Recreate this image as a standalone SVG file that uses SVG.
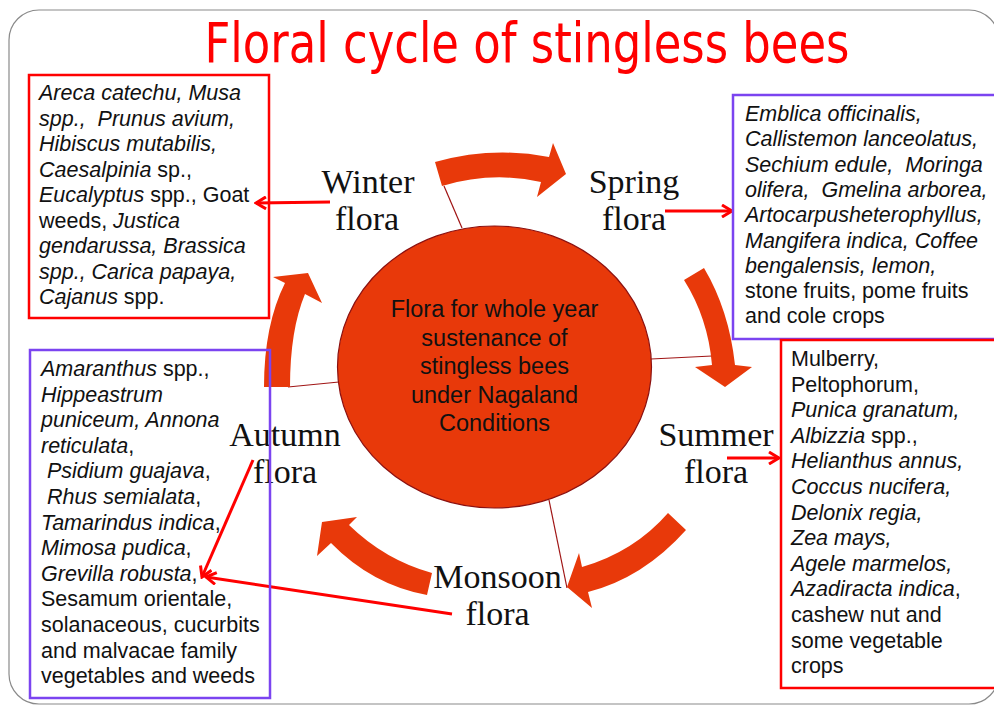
<svg xmlns="http://www.w3.org/2000/svg" width="994" height="706" viewBox="0 0 994 706">
<defs>
<style>
.frame{fill:#fff;stroke:#8a8a8a;stroke-width:1.2}
.title{font-family:"Liberation Sans Narrow","DejaVu Sans Condensed","Liberation Sans",sans-serif;font-size:56px;fill:#ff0000}
.bx{font-family:"Liberation Sans",Arial,sans-serif;font-size:21.5px;fill:#111;white-space:pre}
.i{font-style:italic}
.lbl{font-family:"Liberation Serif","Times New Roman",serif;font-size:34px;fill:#111;text-anchor:middle}
.ctr{font-family:"Liberation Sans",Arial,sans-serif;font-size:23.5px;fill:#111;text-anchor:middle}
.redbox{fill:none;stroke:#ff0000;stroke-width:2.5}
.purbox{fill:none;stroke:#7b44f0;stroke-width:2.5}
.blk{fill:#e8390a;stroke:none}
.spoke{stroke:#a01515;stroke-width:1.2;fill:none}
.ptr{stroke:#ff0000;stroke-width:3;fill:none;marker-end:url(#ah)}
</style>
<marker id="ah" viewBox="0 0 14 14" refX="12" refY="7" markerWidth="14" markerHeight="14" markerUnits="userSpaceOnUse" orient="auto">
<path d="M2,1 L12,7 L2,13" fill="none" stroke="#ff0000" stroke-width="3"/>
</marker>
</defs>
<rect width="994" height="706" fill="#ffffff"/>
<rect class="frame" x="9" y="10" width="990" height="694" rx="30" ry="30"/>

<g id="title"><text class="title" x="527" y="62" text-anchor="middle" textLength="645" lengthAdjust="spacingAndGlyphs">Floral cycle of stingless bees</text></g>

<g id="connectors">
<line class="spoke" x1="444" y1="186" x2="462" y2="228"/>
<line class="spoke" x1="651" y1="359" x2="712" y2="356"/>
<line class="spoke" x1="288" y1="387" x2="339" y2="382"/>
<line class="spoke" x1="549" y1="500" x2="567" y2="588"/>
<path class="blk" d="M435,162 Q492,146 549,157 L553,143 L566,174 L537,197 L541,182 Q492,171 442,186 Z"/>
<path class="blk" d="M684,280 L704,268 Q729,310 735,365 L752,367 L725,387 L695,367 L712,365 Q708,318 684,280 Z"/>
<path class="blk" d="M668,513 L686,530 Q643,578 588,592 L592,608 L567,587 L579,553 L582,567 Q634,552 668,513 Z"/>
<path class="blk" d="M432,573 L427,595 Q372,585 331,543 L317,556 L322,522 L357,517 L349,525 Q385,560 432,573 Z"/>
<path class="blk" d="M264,387 Q264,325 285,283 L273,277 L308,273 L322,303 L305,294 Q290,330 290,387 Z"/>
<line class="ptr" x1="330" y1="202" x2="256" y2="203"/>
<line class="ptr" x1="665" y1="211" x2="732" y2="211"/>
<line class="ptr" x1="727" y1="458" x2="779" y2="458"/>
<line class="ptr" x1="253" y1="460" x2="202" y2="577"/>
<line class="ptr" x1="452" y1="614" x2="206" y2="577"/>
</g>

<g id="center">
<ellipse cx="494.5" cy="367" rx="157" ry="141" fill="#e8390a" stroke="#8b1010" stroke-width="1.2"/>
<text class="ctr" x="494.5" y="317">Flora for whole year</text>
<text class="ctr" x="494.5" y="345.5">sustenance of</text>
<text class="ctr" x="494.5" y="374">stingless bees</text>
<text class="ctr" x="494.5" y="402.5">under Nagaland</text>
<text class="ctr" x="494.5" y="431">Conditions</text>
</g>

<g id="winter-label"><text class="lbl" x="368" y="193">Winter</text><text class="lbl" x="367" y="230">flora</text></g>
<g id="spring-label"><text class="lbl" x="634" y="193">Spring</text><text class="lbl" x="634" y="230">flora</text></g>
<g id="summer-label"><text class="lbl" x="716" y="446">Summer</text><text class="lbl" x="716" y="483">flora</text></g>
<g id="autumn-label"><text class="lbl" x="285" y="446">Autumn</text><text class="lbl" x="285" y="483">flora</text></g>
<g id="monsoon-label"><text class="lbl" x="497.5" y="588">Monsoon</text><text class="lbl" x="497.5" y="625">flora</text></g>

<g id="winter-box">
<rect class="redbox" x="29" y="75" width="240" height="243"/>
<text class="bx" x="39" y="100"><tspan class="i">Areca catechu, Musa</tspan></text>
<text class="bx" x="39" y="125.5" xml:space="preserve"><tspan class="i">spp.,  Prunus avium,</tspan></text>
<text class="bx" x="39" y="151"><tspan class="i">Hibiscus mutabilis,</tspan></text>
<text class="bx" x="39" y="176.5"><tspan class="i">Caesalpinia</tspan> sp.,</text>
<text class="bx" x="39" y="202"><tspan class="i">Eucalyptus</tspan> spp., Goat</text>
<text class="bx" x="39" y="227.5">weeds, <tspan class="i">Justica</tspan></text>
<text class="bx" x="39" y="253"><tspan class="i">gendarussa, Brassica</tspan></text>
<text class="bx" x="39" y="278.5"><tspan class="i">spp., Carica papaya,</tspan></text>
<text class="bx" x="39" y="304"><tspan class="i">Cajanus</tspan> spp.</text>
</g>

<g id="spring-box">
<rect class="purbox" x="733" y="95" width="280" height="244"/>
<text class="bx" x="745" y="121"><tspan class="i">Emblica officinalis,</tspan></text>
<text class="bx" x="745" y="146.3"><tspan class="i">Callistemon lanceolatus,</tspan></text>
<text class="bx" x="745" y="171.6" xml:space="preserve"><tspan class="i">Sechium edule,  Moringa</tspan></text>
<text class="bx" x="745" y="196.9" xml:space="preserve"><tspan class="i">olifera,  Gmelina arborea,</tspan></text>
<text class="bx" x="745" y="222.2"><tspan class="i">Artocarpusheterophyllus,</tspan></text>
<text class="bx" x="745" y="247.5"><tspan class="i">Mangifera indica, Coffee</tspan></text>
<text class="bx" x="745" y="272.8"><tspan class="i">bengalensis, lemon,</tspan></text>
<text class="bx" x="745" y="298.1">stone fruits, pome fruits</text>
<text class="bx" x="745" y="323.4">and cole crops</text>
</g>

<g id="summer-box">
<rect class="redbox" x="781" y="340" width="240" height="348"/>
<text class="bx" x="791" y="366">Mulberry,</text>
<text class="bx" x="791" y="391.6">Peltophorum,</text>
<text class="bx" x="791" y="417.2"><tspan class="i">Punica granatum,</tspan></text>
<text class="bx" x="791" y="442.8"><tspan class="i">Albizzia</tspan> spp.,</text>
<text class="bx" x="791" y="468.4"><tspan class="i">Helianthus annus,</tspan></text>
<text class="bx" x="791" y="494"><tspan class="i">Coccus nucifera,</tspan></text>
<text class="bx" x="791" y="519.6"><tspan class="i">Delonix regia,</tspan></text>
<text class="bx" x="791" y="545.2"><tspan class="i">Zea mays,</tspan></text>
<text class="bx" x="791" y="570.8"><tspan class="i">Agele marmelos,</tspan></text>
<text class="bx" x="791" y="596.4"><tspan class="i">Azadiracta indica</tspan>,</text>
<text class="bx" x="791" y="622">cashew nut and</text>
<text class="bx" x="791" y="647.6">some vegetable</text>
<text class="bx" x="791" y="673.2">crops</text>
</g>

<g id="autumn-box">
<rect class="purbox" x="30" y="350" width="240" height="348"/>
<text class="bx" x="41" y="376"><tspan class="i">Amaranthus</tspan> spp.,</text>
<text class="bx" x="41" y="401.6"><tspan class="i">Hippeastrum</tspan></text>
<text class="bx" x="41" y="427.2"><tspan class="i">puniceum, Annona</tspan></text>
<text class="bx" x="41" y="452.8"><tspan class="i">reticulata</tspan>,</text>
<text class="bx" x="47" y="478.4"><tspan class="i">Psidium guajava</tspan>,</text>
<text class="bx" x="47" y="504"><tspan class="i">Rhus semialata</tspan>,</text>
<text class="bx" x="41" y="529.6"><tspan class="i">Tamarindus indica</tspan>,</text>
<text class="bx" x="41" y="555.2"><tspan class="i">Mimosa pudica</tspan>,</text>
<text class="bx" x="41" y="580.8"><tspan class="i">Grevilla robusta</tspan>,</text>
<text class="bx" x="41" y="606.4">Sesamum orientale,</text>
<text class="bx" x="41" y="632">solanaceous, cucurbits</text>
<text class="bx" x="41" y="657.6">and malvacae family</text>
<text class="bx" x="41" y="683.2">vegetables and weeds</text>
</g>
</svg>
